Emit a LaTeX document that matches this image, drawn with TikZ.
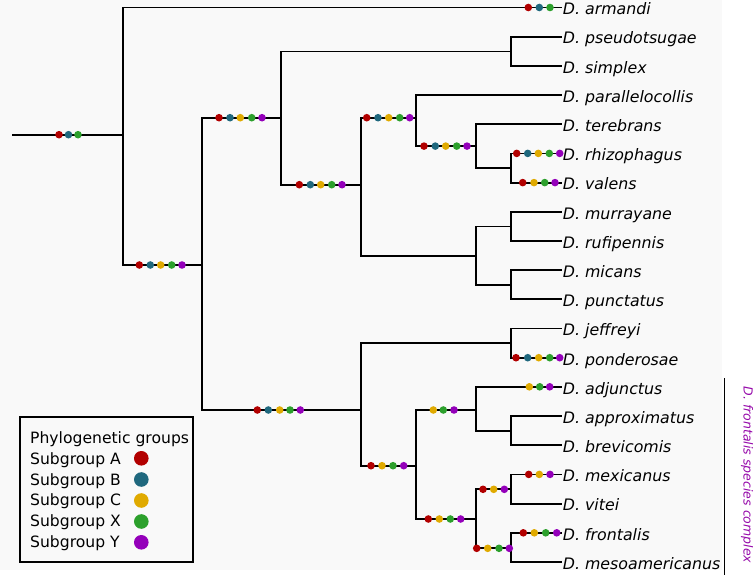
\documentclass[tikz,border=0pt]{standalone}
\usepackage{fontspec}
\setmainfont{DejaVu Sans}
\definecolor{bgcol}{RGB}{249,249,249}
\definecolor{subA}{RGB}{178,0,0}
\definecolor{subB}{RGB}{31,104,126}
\definecolor{subC}{RGB}{224,170,0}
\definecolor{subX}{RGB}{44,160,44}
\definecolor{subY}{RGB}{148,0,186}
\definecolor{cplx}{RGB}{150,10,170}

\begin{document}
\begin{tikzpicture}[x=1pt, y=-1pt, line width=1.8pt,
  leaf/.style = {anchor=west, inner sep=0pt, text height=14.6pt, text depth=0pt, font=\fontsize{15.8}{18}\selectfont\itshape},
  lgtext/.style = {anchor=base west, inner sep=0pt, font=\fontsize{15.6}{18}\selectfont},
  lgdot/.style = {circle, inner sep=0pt, minimum size=14.6pt}]
\useasboundingbox (0,0) rectangle (754,575);
\fill[bgcol] (0,0) rectangle (722,570);

% taxa
\node[leaf] (1) at (562,7.5) {D. armandi};
\node[leaf] (2) at (562,36.7) {D. pseudotsugae};
\node[leaf] (3) at (562,65.9) {D. simplex};
\node[leaf] (4) at (562,95.0) {D. parallelocollis};
\node[leaf] (5) at (562,124.2) {D. terebrans};
\node[leaf] (6) at (562,153.4) {D. rhizophagus};
\node[leaf] (7) at (562,182.6) {D. valens};
\node[leaf] (8) at (562,211.8) {D. murrayane};
\node[leaf] (9) at (562,240.9) {D. rufipennis};
\node[leaf] (10) at (562,270.1) {D. micans};
\node[leaf] (11) at (562,299.3) {D. punctatus};
\node[leaf] (12) at (562,328.5) {D. jeffreyi};
\node[leaf] (13) at (562,357.7) {D. ponderosae};
\node[leaf] (14) at (562,386.8) {D. adjunctus};
\node[leaf] (15) at (562,416.0) {D. approximatus};
\node[leaf] (16) at (562,445.2) {D. brevicomis};
\node[leaf] (17) at (562,474.4) {D. mexicanus};
\node[leaf] (18) at (562,503.6) {D. vitei};
\node[leaf] (19) at (562,532.8) {D. frontalis};
\node[leaf] (20) at (562,561.9) {D. mesoamericanus};

% internal nodes
\coordinate (0) at (12,134.7);
\coordinate (21) at (511,51.5);
\coordinate (22) at (511,168.2);
\coordinate (23) at (476,146.1);
\coordinate (24) at (416,117.7);
\coordinate (25) at (511,226.4);
\coordinate (26) at (511,285.0);
\coordinate (27) at (476,255.7);
\coordinate (28) at (361,184.7);
\coordinate (29) at (281,117.7);
\coordinate (30) at (202,265.0);
\coordinate (31) at (123,134.7);
\coordinate (32) at (511,343.3);
\coordinate (33) at (511,430.7);
\coordinate (34) at (476,410.0);
\coordinate (35) at (511,489.3);
\coordinate (36) at (511,548.3);
\coordinate (37) at (476,519.0);
\coordinate (38) at (416,465.7);
\coordinate (39) at (361,410.0);

% branches
\draw (0) -- (31);
\draw (31) |- (1.west);
\draw (31) |- (30);
\draw (30) |- (29);
\draw (30) |- (39);
\draw (29) |- (21);
\draw (29) |- (28);
\draw (21) |- (2.west);
\draw (21) |- (3.west);
\draw (28) |- (24);
\draw (28) |- (27);
\draw (24) |- (4.west);
\draw (24) |- (23);
\draw (23) |- (5.west);
\draw (23) |- (22);
\draw (22) |- (6.west);
\draw (22) |- (7.west);
\draw (27) |- (25);
\draw (27) |- (26);
\draw (25) |- (8.west);
\draw (25) |- (9.west);
\draw (26) |- (10.west);
\draw (26) |- (11.west);
\draw (39) |- (32);
\draw (39) |- (38);
\draw (32) |- (12.west);
\draw (32) |- (13.west);
\draw (38) |- (34);
\draw (38) |- (37);
\draw (34) |- (14.west);
\draw (34) |- (33);
\draw (33) |- (15.west);
\draw (33) |- (16.west);
\draw (37) |- (35);
\draw (37) |- (36);
\draw (35) |- (17.west);
\draw (35) |- (18.west);
\draw (36) |- (19.west);
\draw (36) |- (20.west);

% subgroup marks on branches
\foreach \c/\x in {subA/59,subB/68.5,subX/78} \fill[\c] (\x,134.7) circle (3.8);
\foreach \c/\x in {subA/139.3,subB/150.3,subC/160.7,subX/171.7,subY/182} \fill[\c] (\x,265) circle (3.8);
\foreach \c/\x in {subA/219,subB/230,subC/240.3,subX/251.7,subY/262} \fill[\c] (\x,117.7) circle (3.8);
\foreach \c/\x in {subA/299.3,subB/310.3,subC/320.7,subX/331.7,subY/342} \fill[\c] (\x,184.7) circle (3.8);
\foreach \c/\x in {subA/366.7,subB/378,subC/388.7,subX/399.7,subY/409.7} \fill[\c] (\x,117.7) circle (3.8);
\foreach \c/\x in {subA/424,subB/435.3,subC/445.7,subX/456.7,subY/467} \fill[\c] (\x,146.1) circle (3.8);
\foreach \c/\x in {subA/528.3,subB/539.3,subX/550} \fill[\c] (\x,7.5) circle (3.8);
\foreach \c/\x in {subA/516.7,subB/527.7,subC/538.3,subX/549.3,subY/559.7} \fill[\c] (\x,153.4) circle (3.8);
\foreach \c/\x in {subA/522.7,subC/534,subX/544.7,subY/555} \fill[\c] (\x,182.6) circle (3.8);
\foreach \c/\x in {subA/257.3,subB/268.3,subC/279.7,subX/290,subY/300.3} \fill[\c] (\x,410) circle (3.8);
\foreach \c/\x in {subA/516,subB/527.7,subC/538.7,subX/549.7,subY/559.7} \fill[\c] (\x,357.7) circle (3.8);
\foreach \c/\x in {subA/371,subC/382,subX/393,subY/403.7} \fill[\c] (\x,465.7) circle (3.8);
\foreach \c/\x in {subC/433.3,subX/443.3,subY/454} \fill[\c] (\x,410) circle (3.8);
\foreach \c/\x in {subC/529.3,subX/539.7,subY/549.7} \fill[\c] (\x,386.8) circle (3.8);
\foreach \c/\x in {subA/428.3,subC/439.3,subX/450.3,subY/460.7} \fill[\c] (\x,519) circle (3.8);
\foreach \c/\x in {subA/483,subC/493.7,subY/504.3} \fill[\c] (\x,489.3) circle (3.8);
\foreach \c/\x in {subA/528.7,subC/539.3,subY/550} \fill[\c] (\x,474.4) circle (3.8);
\foreach \c/\x in {subA/476.7,subC/487.7,subX/499,subY/509.3} \fill[\c] (\x,548.3) circle (3.8);
\foreach \c/\x in {subA/523.3,subC/534.3,subX/545.7,subY/556.7} \fill[\c] (\x,532.8) circle (3.8);

% legend
\draw[fill=bgcol] (20.3,417.3) rectangle (193.3,562);
\node[lgtext] (lg) at (29.3,443.3) {Phylogenetic groups};
\node[lgtext] (lA) at (29.3,464.2) {Subgroup A};
\node[lgtext] (lB) at (29.3,485.0) {Subgroup B};
\node[lgtext] (lC) at (29.3,505.8) {Subgroup C};
\node[lgtext] (lX) at (29.3,526.6) {Subgroup X};
\node[lgtext] (lY) at (29.3,547.4) {Subgroup Y};
\node[lgdot, fill=subA] (dA) at (141.3,458.3) {};
\node[lgdot, fill=subB] (dB) at (141.3,479.5) {};
\node[lgdot, fill=subC] (dC) at (141.3,500.5) {};
\node[lgdot, fill=subX] (dX) at (141.3,521.5) {};
\node[lgdot, fill=subY] (dY) at (141.3,542.3) {};

% species complex
\coordinate (cx1) at (724.3,378);
\coordinate (cx2) at (724.3,575);
\draw[line width=1.5pt] (cx1) -- (cx2);
\node[rotate=-90, text=cplx, inner sep=0pt, font=\fontsize{12.5}{14}\selectfont\itshape] (cx) at (747,475) {D. frontalis species complex};
\end{tikzpicture}
\end{document}
